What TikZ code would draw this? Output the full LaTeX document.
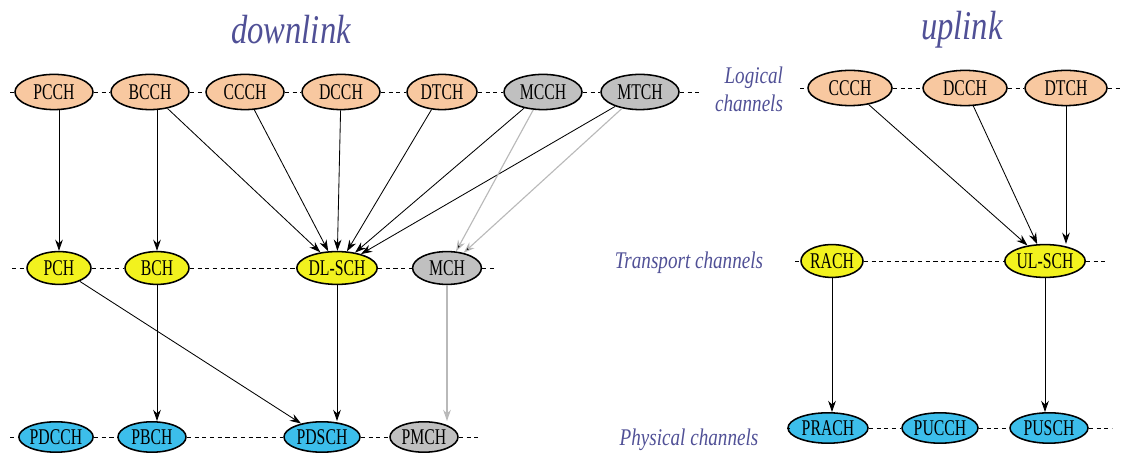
\documentclass[tikz,border=0pt]{standalone}
\usepackage{fontspec}
\usetikzlibrary{shapes.geometric,arrows.meta}
\newfontfamily\chfont{Liberation Serif}[FakeStretch=0.7]
\newfontfamily\lblfont{Liberation Serif}[FakeStretch=0.8]
\definecolor{peach}{RGB}{248,200,160}
\definecolor{chgray}{RGB}{192,192,192}
\definecolor{chyellow}{RGB}{242,242,30}
\definecolor{chcyan}{RGB}{60,190,235}
\definecolor{lblblue}{RGB}{80,80,150}
\definecolor{arrgray}{RGB}{185,185,185}

\begin{document}
\begin{tikzpicture}[x=0.025cm,y=-0.025cm,
    ch/.style={draw, ellipse, line width=1.1pt, inner sep=0pt, minimum height=0.88cm,
      font=\chfont\fontsize{16}{16}\selectfont},
    logch/.style={ch, fill=peach, minimum width=1.95cm},
    trch/.style={ch, fill=chyellow, minimum width=1.6cm, minimum height=0.82cm},
    phch/.style={ch, fill=chcyan, minimum width=1.7cm, minimum height=0.76cm},
    grch/.style={fill=chgray},
    dashline/.style={dashed, dash pattern=on 3pt off 2.5pt, line width=0.7pt},
    arr/.style={-{Stealth[length=8pt,width=5.5pt]}, line width=0.6pt},
    garr/.style={arr, draw=arrgray, line width=0.8pt},
    lbl/.style={text=lblblue, font=\lblfont\itshape\fontsize{17}{20}\selectfont},
    title/.style={text=lblblue, font=\lblfont\itshape\fontsize{29}{30}\selectfont}]
  \useasboundingbox (0,0) rectangle (1134,457);

  % titles and row labels
  \node[title] (dl) at (291,30) {downlink};
  \node[title] (ul) at (962,30) {uplink};
  \node[lbl, align=right] (loglbl) at (749,89) {Logical\\channels};
  \node[lbl] (trlbl) at (689,263) {Transport channels};
  \node[lbl] (phlbl) at (689,440) {Physical channels};

  % downlink logical channels
  \draw (54,92) node[logch] (PCCH) {PCCH};
  \draw (150,92) node[logch] (BCCH) {BCCH};
  \draw (245,92) node[logch] (CCCH) {CCCH};
  \draw (341,92) node[logch] (DCCH) {DCCH};
  \draw (442,92) node[logch, minimum width=1.75cm] (DTCH) {DTCH};
  \draw (543,92) node[logch, grch] (MCCH) {MCCH};
  \draw (640,92) node[logch, grch] (MTCH) {MTCH};

  % downlink transport channels
  \draw (59,268) node[trch] (PCH) {PCH};
  \draw (157,268) node[trch] (BCH) {BCH};
  \draw (337,268) node[trch, minimum width=2cm] (DLSCH) {DL-SCH};
  \draw (447,268) node[trch, grch, minimum width=1.72cm] (MCH) {MCH};

  % downlink physical channels
  \draw (56,437) node[phch, minimum width=1.55cm] (PDCCH) {PDCCH};
  \draw (152,437) node[phch] (PBCH) {PBCH};
  \draw (322,437) node[phch, minimum width=1.9cm] (PDSCH) {PDSCH};
  \draw (424,437) node[phch, grch] (PMCH) {PMCH};

  % uplink
  \draw (850,88) node[logch, minimum width=2.1cm] (uCCCH) {CCCH};
  \draw (965,88) node[logch, minimum width=2.1cm] (uDCCH) {DCCH};
  \draw (1066,88) node[logch, minimum width=2.05cm] (uDTCH) {DTCH};
  \draw (832,261) node[trch, minimum width=1.55cm] (RACH) {RACH};
  \draw (1045,261) node[trch, minimum width=1.9cm] (ULSCH) {UL-SCH};
  \draw (828,428) node[phch, minimum width=2cm] (PRACH) {PRACH};
  \draw (940,428) node[phch, minimum width=1.9cm] (PUCCH) {PUCCH};
  \draw (1049,428) node[phch, minimum width=1.95cm] (PUSCH) {PUSCH};

  % ends of the dashed rows
  \coordinate (dl1a) at (10,92);   \coordinate (dl1b) at (700,92);
  \coordinate (dl2a) at (12,268);  \coordinate (dl2b) at (495,268);
  \coordinate (dl3a) at (10,437);  \coordinate (dl3b) at (480,437);
  \coordinate (ul1a) at (800,88);  \coordinate (ul1b) at (1120,88);
  \coordinate (ul2a) at (795,261); \coordinate (ul2b) at (1105,261);
  \coordinate (ul3a) at (790,428); \coordinate (ul3b) at (1112,428);

  \draw[dashline] (dl1a) -- (PCCH) (PCCH) -- (BCCH) (BCCH) -- (CCCH) (CCCH) -- (DCCH)
    (DCCH) -- (DTCH) (DTCH) -- (MCCH) (MCCH) -- (MTCH) (MTCH) -- (dl1b);
  \draw[dashline] (dl2a) -- (PCH) (PCH) -- (BCH) (BCH) -- (DLSCH) (DLSCH) -- (MCH) (MCH) -- (dl2b);
  \draw[dashline] (dl3a) -- (PDCCH) (PDCCH) -- (PBCH) (PBCH) -- (PDSCH) (PDSCH) -- (PMCH) (PMCH) -- (dl3b);
  \draw[dashline] (ul1a) -- (uCCCH) (uCCCH) -- (uDCCH) (uDCCH) -- (uDTCH) (uDTCH) -- (ul1b);
  \draw[dashline] (ul2a) -- (RACH) (RACH) -- (ULSCH) (ULSCH) -- (ul2b);
  \draw[dashline] (ul3a) -- (PRACH) (PRACH) -- (PUCCH) (PUCCH) -- (PUSCH) (PUSCH) -- (ul3b);

  % downlink mapping
  \draw[arr] (PCCH.south -| PCH) -- (PCH);
  \draw[arr] (BCCH.south -| BCH) -- (BCH);
  \draw[arr] (BCCH) edge (DLSCH);
  \draw[arr] (CCCH) edge (DLSCH);
  \draw[arr] (DCCH) edge (DLSCH);
  \draw[arr] (DTCH) edge (DLSCH);
  \draw[arr] (MCCH) edge (DLSCH);
  \draw[arr] (MTCH) edge (DLSCH);
  \draw[garr] (MCCH) edge (MCH);
  \draw[garr] (MTCH) edge (MCH);
  \draw[arr] (PCH) edge (PDSCH);
  \draw[arr] (BCH) -- (BCH |- PBCH.north);
  \draw[arr] (DLSCH) -- (DLSCH |- PDSCH.north);
  \draw[garr] (MCH) -- (MCH |- PMCH.north);

  % uplink mapping
  \draw[arr] (uCCCH) edge (ULSCH);
  \draw[arr] (uDCCH) edge (ULSCH);
  \draw[arr] (uDTCH) -- (uDTCH |- ULSCH.north);
  \draw[arr] (RACH) -- (RACH |- PRACH.north);
  \draw[arr] (ULSCH) -- (ULSCH |- PUSCH.north);
\end{tikzpicture}
\end{document}
